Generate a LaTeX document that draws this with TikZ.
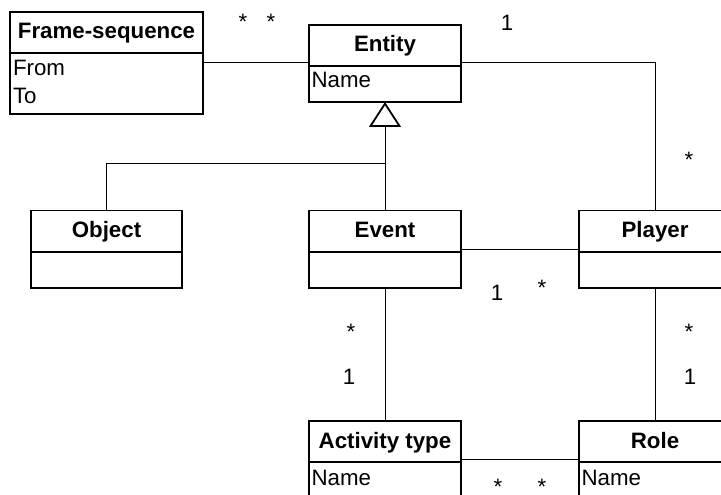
\documentclass[tikz,border=0pt]{standalone}
\usepackage{fontspec}
\setmainfont{Liberation Sans}
\usetikzlibrary{arrows.meta,calc}
\begin{document}
\begin{tikzpicture}[x=1pt,y=-1pt,
  every node/.style={font=\fontsize{22.3}{28}\selectfont, inner sep=0pt, outer sep=0pt},
  clsbox/.style={draw, line width=1.8pt, minimum width=152pt, anchor=north},
  head/.style={clsbox, minimum height=41.5pt, font=\fontsize{22.3}{28}\selectfont\bfseries, text height=16pt, text depth=3pt},
  compart/.style={clsbox, minimum height=36pt},
  attr/.style={anchor=base west},
  mult/.style={anchor=base},
  assoc/.style={line width=1pt},
  inherit/.style={line width=1pt, -{Triangle[open, width=32pt, length=25pt, line width=1.8pt]}}
]
\useasboundingbox (0,0) rectangle (721,495);
\clip (0,0) rectangle (721,495);

% classes: name compartment on top, attribute compartment below
\node[head, minimum width=193pt, minimum height=41pt] (fsH) at (106.5,12) {Frame-sequence};
\node[compart, minimum width=193pt, minimum height=61pt] (fsB) at (fsH.south) {};
\node[attr] (fsFrom) at ($(fsB.north west)+(3,23)$) {From};
\node[attr] (fsTo) at ($(fsB.north west)+(3,50.5)$) {To};

\node[head, minimum height=41pt] (entityH) at (385,25) {Entity};
\node[compart] (entityB) at (entityH.south) {};
\node[attr] (entityName) at ($(entityB.north west)+(2.5,22)$) {Name};

\node[head, minimum width=151pt] (objH) at (106.5,210.5) {Object};
\node[compart, minimum width=151pt] (objB) at (objH.south) {};

\node[head] (eventH) at (385,210.5) {Event};
\node[compart] (eventB) at (eventH.south) {};

\node[head] (playerH) at (655,210.5) {Player};
\node[compart] (playerB) at (playerH.south) {};

\node[head, minimum height=41pt] (actH) at (385,421) {Activity type};
\node[compart] (actB) at (actH.south) {};
\node[attr] (actName) at ($(actB.north west)+(2.5,23)$) {Name};

\node[head, minimum height=41pt] (roleH) at (655,421) {Role};
\node[compart] (roleB) at (roleH.south) {};
\node[attr] (roleName) at ($(roleB.north west)+(2.5,23)$) {Name};

% connector levels
\coordinate (topLink) at (0,63);
\coordinate (midLink) at (0,249);
\coordinate (lowLink) at (0,459);
\coordinate (genjoin) at (385,163);

% generalization
\draw[inherit] (eventH.north) -- (entityB.south);
\draw[assoc] (objH.north) |- (genjoin);

% associations
\draw[assoc] (fsB.east |- topLink) -- (entityH.west |- topLink);
\draw[assoc] (entityH.east |- topLink) -| (playerH.north);
\draw[assoc] (eventH.east |- midLink) -- (playerH.west |- midLink);
\draw[assoc] (eventB.south) -- (actH.north);
\draw[assoc] (playerB.south) -- (roleH.north);
\draw[assoc] (actH.east |- lowLink) -- (roleH.west |- lowLink);

% multiplicities
\node[mult] (m1) at (243,30) {*};
\node[mult] (m2) at (271,30) {*};
\node[mult] (m3) at (507,31) {1};
\node[mult] (m4) at (689,167) {*};
\node[mult] (m5) at (497,300) {1};
\node[mult] (m6) at (542,295) {*};
\node[mult] (m7) at (351,339) {*};
\node[mult] (m8) at (349,384) {1};
\node[mult] (m9) at (689,339) {*};
\node[mult] (m10) at (690,384) {1};
\node[mult] (m11) at (498,494) {*};
\node[mult] (m12) at (542,494) {*};
\end{tikzpicture}
\end{document}
